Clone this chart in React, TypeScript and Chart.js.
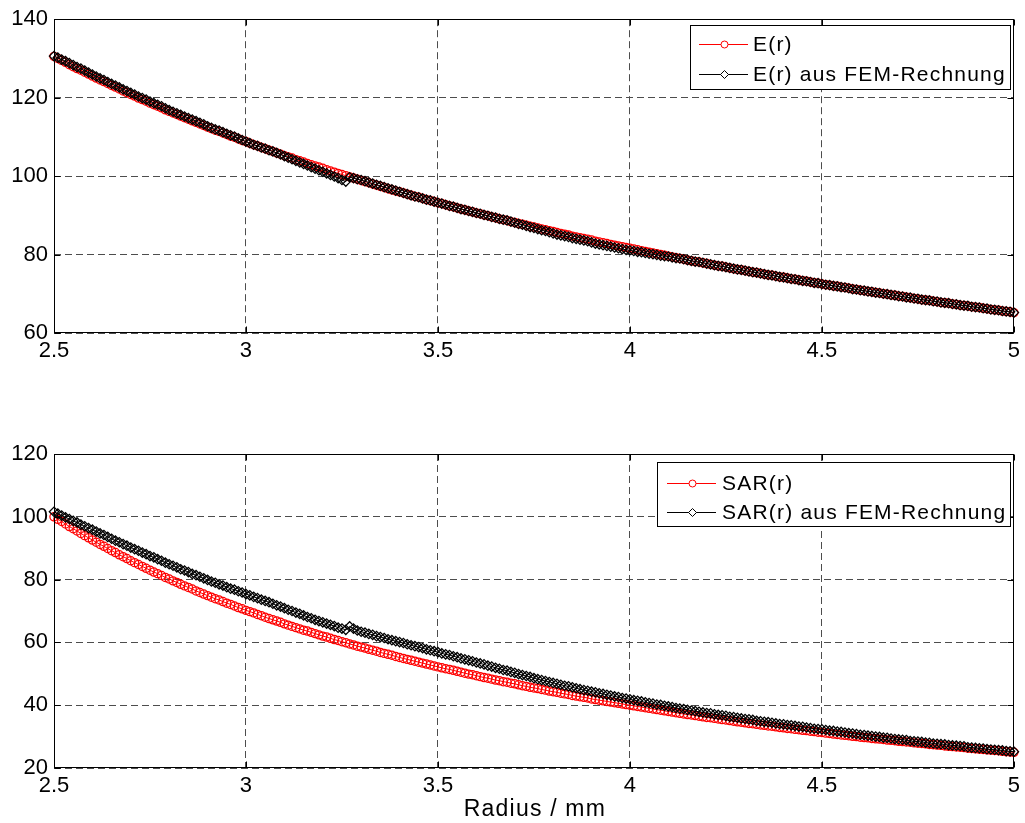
import React, { useEffect, useRef } from 'react';
import { Chart, registerables } from 'chart.js';

Chart.register(...registerables);

// ---------------- data ----------------
const radius = [
  2.5, 2.51, 2.52, 2.53, 2.54, 2.55, 2.56, 2.57, 2.58, 2.59,
  2.6, 2.61, 2.62, 2.63, 2.64, 2.65, 2.66, 2.67, 2.68, 2.69,
  2.7, 2.71, 2.72, 2.73, 2.74, 2.75, 2.76, 2.77, 2.78, 2.79,
  2.8, 2.81, 2.82, 2.83, 2.84, 2.85, 2.86, 2.87, 2.88, 2.89,
  2.9, 2.91, 2.92, 2.93, 2.94, 2.95, 2.96, 2.97, 2.98, 2.99,
  3.0, 3.01, 3.02, 3.03, 3.04, 3.05, 3.06, 3.07, 3.08, 3.09,
  3.1, 3.11, 3.12, 3.13, 3.14, 3.15, 3.16, 3.17, 3.18, 3.19,
  3.2, 3.21, 3.22, 3.23, 3.24, 3.25, 3.26, 3.27, 3.28, 3.29,
  3.3, 3.31, 3.32, 3.33, 3.34, 3.35, 3.36, 3.37, 3.38, 3.39,
  3.4, 3.41, 3.42, 3.43, 3.44, 3.45, 3.46, 3.47, 3.48, 3.49,
  3.5, 3.51, 3.52, 3.53, 3.54, 3.55, 3.56, 3.57, 3.58, 3.59,
  3.6, 3.61, 3.62, 3.63, 3.64, 3.65, 3.66, 3.67, 3.68, 3.69,
  3.7, 3.71, 3.72, 3.73, 3.74, 3.75, 3.76, 3.77, 3.78, 3.79,
  3.8, 3.81, 3.82, 3.83, 3.84, 3.85, 3.86, 3.87, 3.88, 3.89,
  3.9, 3.91, 3.92, 3.93, 3.94, 3.95, 3.96, 3.97, 3.98, 3.99,
  4.0, 4.01, 4.02, 4.03, 4.04, 4.05, 4.06, 4.07, 4.08, 4.09,
  4.1, 4.11, 4.12, 4.13, 4.14, 4.15, 4.16, 4.17, 4.18, 4.19,
  4.2, 4.21, 4.22, 4.23, 4.24, 4.25, 4.26, 4.27, 4.28, 4.29,
  4.3, 4.31, 4.32, 4.33, 4.34, 4.35, 4.36, 4.37, 4.38, 4.39,
  4.4, 4.41, 4.42, 4.43, 4.44, 4.45, 4.46, 4.47, 4.48, 4.49,
  4.5, 4.51, 4.52, 4.53, 4.54, 4.55, 4.56, 4.57, 4.58, 4.59,
  4.6, 4.61, 4.62, 4.63, 4.64, 4.65, 4.66, 4.67, 4.68, 4.69,
  4.7, 4.71, 4.72, 4.73, 4.74, 4.75, 4.76, 4.77, 4.78, 4.79,
  4.8, 4.81, 4.82, 4.83, 4.84, 4.85, 4.86, 4.87, 4.88, 4.89,
  4.9, 4.91, 4.92, 4.93, 4.94, 4.95, 4.96, 4.97, 4.98, 4.99,
  5.0,
];

const eAnalytic = [
  130.5, 130.0, 129.5, 129.0, 128.4, 127.9, 127.4, 127.0, 126.5, 126.0,
  125.5, 125.0, 124.5, 124.1, 123.6, 123.1, 122.7, 122.2, 121.7, 121.3,
  120.8, 120.4, 119.9, 119.5, 119.1, 118.6, 118.2, 117.8, 117.4, 116.9,
  116.5, 116.1, 115.7, 115.3, 114.9, 114.5, 114.1, 113.7, 113.3, 112.9,
  112.5, 112.1, 111.7, 111.4, 111.0, 110.6, 110.2, 109.9, 109.5, 109.1,
  108.8, 108.4, 108.0, 107.7, 107.3, 107.0, 106.6, 106.3, 105.9, 105.6,
  105.2, 104.9, 104.6, 104.2, 103.9, 103.6, 103.2, 102.9, 102.6, 102.3,
  102.0, 101.6, 101.3, 101.0, 100.7, 100.4, 100.1, 99.8, 99.5, 99.2,
  98.9, 98.6, 98.3, 98.0, 97.7, 97.4, 97.1, 96.8, 96.5, 96.2,
  96.0, 95.7, 95.4, 95.1, 94.8, 94.6, 94.3, 94.0, 93.8, 93.5,
  93.2, 93.0, 92.7, 92.4, 92.2, 91.9, 91.6, 91.4, 91.1, 90.9,
  90.6, 90.4, 90.1, 89.9, 89.6, 89.4, 89.1, 88.9, 88.7, 88.4,
  88.2, 87.9, 87.7, 87.5, 87.2, 87.0, 86.8, 86.5, 86.3, 86.1,
  85.9, 85.6, 85.4, 85.2, 85.0, 84.7, 84.5, 84.3, 84.1, 83.9,
  83.7, 83.4, 83.2, 83.0, 82.8, 82.6, 82.4, 82.2, 82.0, 81.8,
  81.6, 81.4, 81.2, 81.0, 80.8, 80.6, 80.4, 80.2, 80.0, 79.8,
  79.6, 79.4, 79.2, 79.0, 78.8, 78.6, 78.4, 78.2, 78.1, 77.9,
  77.7, 77.5, 77.3, 77.1, 77.0, 76.8, 76.6, 76.4, 76.2, 76.1,
  75.9, 75.7, 75.5, 75.4, 75.2, 75.0, 74.8, 74.7, 74.5, 74.3,
  74.2, 74.0, 73.8, 73.7, 73.5, 73.3, 73.2, 73.0, 72.8, 72.7,
  72.5, 72.3, 72.2, 72.0, 71.9, 71.7, 71.6, 71.4, 71.2, 71.1,
  70.9, 70.8, 70.6, 70.5, 70.3, 70.2, 70.0, 69.9, 69.7, 69.6,
  69.4, 69.3, 69.1, 69.0, 68.8, 68.7, 68.5, 68.4, 68.3, 68.1,
  68.0, 67.8, 67.7, 67.6, 67.4, 67.3, 67.1, 67.0, 66.9, 66.7,
  66.6, 66.5, 66.3, 66.2, 66.0, 65.9, 65.8, 65.6, 65.5, 65.4,
  65.2,
];

const eFem = [
  130.6, 130.2, 129.7, 129.3, 128.8, 128.3, 127.8, 127.4, 126.9, 126.4,
  125.9, 125.4, 124.9, 124.5, 124.0, 123.5, 123.1, 122.6, 122.1, 121.7,
  121.2, 120.8, 120.3, 119.9, 119.5, 119.0, 118.6, 118.2, 117.8, 117.3,
  116.8, 116.4, 116.0, 115.6, 115.2, 114.8, 114.4, 114.0, 113.6, 113.2,
  112.7, 112.3, 111.9, 111.6, 111.2, 110.8, 110.4, 110.1, 109.6, 109.2,
  108.8, 108.4, 108.0, 107.7, 107.3, 107.0, 106.6, 106.3, 105.9, 105.5,
  105.1, 104.7, 104.3, 103.9, 103.5, 103.1, 102.7, 102.3, 101.9, 101.5,
  101.1, 100.7, 100.3, 99.9, 99.5, 99.0, 98.6, 99.7, 99.5, 99.2,
  99.0, 98.7, 98.4, 98.1, 97.8, 97.5, 97.2, 96.9, 96.6, 96.3,
  96.0, 95.7, 95.4, 95.1, 94.8, 94.6, 94.3, 94.0, 93.8, 93.5,
  93.2, 93.0, 92.7, 92.4, 92.2, 91.9, 91.6, 91.4, 91.1, 90.9,
  90.6, 90.4, 90.1, 89.9, 89.6, 89.4, 89.1, 88.9, 88.7, 88.4,
  88.1, 87.8, 87.6, 87.3, 87.0, 86.8, 86.5, 86.2, 86.0, 85.7,
  85.4, 85.1, 84.9, 84.7, 84.5, 84.2, 84.0, 83.8, 83.6, 83.4,
  83.1, 82.8, 82.6, 82.4, 82.2, 82.0, 81.8, 81.6, 81.4, 81.2,
  81.1, 80.9, 80.7, 80.6, 80.4, 80.2, 80.1, 79.9, 79.7, 79.6,
  79.5, 79.3, 79.1, 79.0, 78.8, 78.6, 78.4, 78.2, 78.1, 77.9,
  77.7, 77.5, 77.3, 77.1, 77.0, 76.8, 76.6, 76.4, 76.2, 76.1,
  75.9, 75.7, 75.5, 75.4, 75.2, 75.0, 74.8, 74.7, 74.5, 74.3,
  74.2, 74.0, 73.8, 73.7, 73.5, 73.3, 73.2, 73.0, 72.8, 72.7,
  72.5, 72.3, 72.2, 72.0, 71.9, 71.7, 71.6, 71.4, 71.2, 71.1,
  70.9, 70.8, 70.6, 70.5, 70.3, 70.2, 70.0, 69.9, 69.7, 69.6,
  69.4, 69.3, 69.1, 69.0, 68.8, 68.7, 68.5, 68.4, 68.3, 68.1,
  68.0, 67.8, 67.7, 67.6, 67.4, 67.3, 67.1, 67.0, 66.9, 66.7,
  66.6, 66.5, 66.3, 66.2, 66.0, 65.9, 65.8, 65.6, 65.5, 65.4,
  65.2,
];

const sarAnalytic = [
  100.0, 99.2, 98.5, 97.7, 96.9, 96.2, 95.5, 94.7, 94.0, 93.3,
  92.6, 91.9, 91.2, 90.6, 89.9, 89.2, 88.6, 87.9, 87.3, 86.7,
  86.0, 85.4, 84.8, 84.2, 83.6, 83.0, 82.4, 81.9, 81.3, 80.7,
  80.2, 79.6, 79.1, 78.5, 78.0, 77.5, 77.0, 76.4, 75.9, 75.4,
  74.9, 74.4, 73.9, 73.5, 73.0, 72.5, 72.1, 71.6, 71.1, 70.7,
  70.2, 69.8, 69.4, 68.9, 68.5, 68.0, 67.6, 67.2, 66.8, 66.4,
  65.9, 65.5, 65.1, 64.7, 64.3, 63.9, 63.6, 63.2, 62.8, 62.4,
  62.0, 61.7, 61.3, 60.9, 60.6, 60.2, 59.9, 59.5, 59.2, 58.8,
  58.5, 58.2, 57.8, 57.5, 57.2, 56.8, 56.5, 56.2, 55.9, 55.5,
  55.2, 54.9, 54.6, 54.3, 54.0, 53.7, 53.4, 53.1, 52.8, 52.5,
  52.2, 51.9, 51.6, 51.4, 51.1, 50.8, 50.5, 50.2, 49.9, 49.7,
  49.4, 49.1, 48.8, 48.6, 48.3, 48.0, 47.8, 47.5, 47.3, 47.0,
  46.8, 46.5, 46.2, 46.0, 45.7, 45.5, 45.3, 45.0, 44.8, 44.5,
  44.3, 44.1, 43.8, 43.6, 43.4, 43.1, 42.9, 42.7, 42.5, 42.3,
  42.0, 41.8, 41.6, 41.4, 41.2, 41.0, 40.8, 40.6, 40.4, 40.2,
  40.0, 39.8, 39.6, 39.4, 39.2, 39.0, 38.8, 38.6, 38.4, 38.2,
  38.0, 37.8, 37.6, 37.4, 37.2, 37.0, 36.9, 36.7, 36.5, 36.3,
  36.1, 36.0, 35.8, 35.6, 35.4, 35.3, 35.1, 34.9, 34.7, 34.6,
  34.4, 34.2, 34.1, 33.9, 33.7, 33.6, 33.4, 33.3, 33.1, 32.9,
  32.8, 32.6, 32.5, 32.3, 32.2, 32.0, 31.9, 31.7, 31.6, 31.4,
  31.3, 31.1, 31.0, 30.8, 30.7, 30.5, 30.4, 30.3, 30.1, 30.0,
  29.8, 29.7, 29.6, 29.4, 29.3, 29.2, 29.1, 28.9, 28.8, 28.7,
  28.5, 28.4, 28.3, 28.2, 28.0, 27.9, 27.8, 27.7, 27.5, 27.4,
  27.3, 27.2, 27.0, 26.9, 26.8, 26.7, 26.6, 26.5, 26.3, 26.2,
  26.1, 26.0, 25.9, 25.8, 25.7, 25.6, 25.5, 25.3, 25.2, 25.1,
  25.0,
];

const sarFem = [
  101.6, 101.0, 100.4, 99.8, 99.3, 98.7, 98.2, 97.5, 97.0, 96.4,
  95.9, 95.3, 94.7, 94.2, 93.6, 93.0, 92.4, 91.9, 91.3, 90.8,
  90.2, 89.7, 89.2, 88.6, 88.1, 87.5, 87.1, 86.5, 86.0, 85.4,
  84.9, 84.4, 83.9, 83.3, 82.9, 82.4, 81.8, 81.4, 80.9, 80.4,
  79.9, 79.4, 79.0, 78.5, 78.1, 77.6, 77.1, 76.8, 76.3, 75.9,
  75.4, 75.0, 74.5, 74.1, 73.6, 73.2, 72.8, 72.3, 71.8, 71.4,
  70.9, 70.4, 70.0, 69.5, 69.1, 68.6, 68.1, 67.7, 67.2, 66.8,
  66.4, 66.0, 65.6, 65.2, 64.7, 64.4, 64.0, 65.1, 64.4, 63.8,
  63.4, 63.1, 62.7, 62.4, 62.0, 61.7, 61.4, 61.0, 60.7, 60.4,
  60.1, 59.8, 59.4, 59.1, 58.8, 58.5, 58.2, 57.8, 57.5, 57.2,
  56.9, 56.5, 56.2, 56.0, 55.6, 55.3, 54.9, 54.6, 54.3, 54.0,
  53.6, 53.3, 53.0, 52.6, 52.3, 51.9, 51.6, 51.2, 51.0, 50.6,
  50.3, 49.9, 49.6, 49.3, 49.0, 48.6, 48.3, 48.0, 47.7, 47.4,
  47.1, 46.8, 46.5, 46.2, 46.0, 45.7, 45.4, 45.1, 44.8, 44.6,
  44.3, 44.1, 43.8, 43.6, 43.3, 43.1, 42.8, 42.6, 42.3, 42.1,
  41.9, 41.6, 41.4, 41.2, 40.9, 40.7, 40.5, 40.2, 40.1, 39.8,
  39.6, 39.4, 39.1, 38.9, 38.8, 38.5, 38.3, 38.1, 37.9, 37.7,
  37.5, 37.4, 37.1, 36.9, 36.8, 36.6, 36.3, 36.2, 36.0, 35.8,
  35.6, 35.5, 35.3, 35.0, 34.9, 34.7, 34.6, 34.4, 34.2, 34.0,
  33.9, 33.7, 33.6, 33.4, 33.2, 33.1, 32.9, 32.7, 32.5, 32.4,
  32.3, 32.1, 31.9, 31.8, 31.6, 31.5, 31.3, 31.1, 31.0, 30.8,
  30.6, 30.5, 30.3, 30.2, 30.0, 29.9, 29.7, 29.6, 29.4, 29.2,
  29.1, 29.0, 28.9, 28.6, 28.5, 28.4, 28.3, 28.1, 28.0, 27.8,
  27.7, 27.6, 27.5, 27.3, 27.2, 27.1, 27.0, 26.9, 26.6, 26.5,
  26.4, 26.3, 26.2, 26.0, 25.9, 25.8, 25.7, 25.6, 25.4, 25.3,
  25.2,
];

const xTicks = [2.5, 3, 3.5, 4, 4.5, 5];
const xTickLabels = ['2.5', '3', '3.5', '4', '4.5', '5'];
const eTicks = [60, 80, 100, 120, 140];
const sarTicks = [20, 40, 60, 80, 100, 120];
const eLegendLabels = ['E(r)', 'E(r) aus FEM-Rechnung'];
const sarLegendLabels = ['SAR(r)', 'SAR(r) aus FEM-Rechnung'];
const xTitle = 'Radius / mm';

// ---------------- styling / layout ----------------
const FONT = '"Liberation Sans", Arial, Helvetica, sans-serif';
const RED = '#ff0000';
const BLACK = '#000000';
const GRID = '#4d4d4d';
const CIRCLE_R = 4.1;
const DIAMOND_R = 4.7;
const MARKER_LW = 1.25;

type LegendLayout = {
  left: number; top: number; width: number; height: number;
  rows: number[]; lineX0: number; lineX1: number; textX: number;
};

function drawMarker(ctx: CanvasRenderingContext2D, style: string, x: number, y: number, color: string) {
  ctx.save();
  ctx.strokeStyle = color;
  ctx.lineWidth = 1;
  ctx.beginPath();
  if (style === 'circle') {
    ctx.arc(x, y, 3.5, 0, Math.PI * 2);
  } else {
    const r = 4;
    ctx.moveTo(x, y - r);
    ctx.lineTo(x + r, y);
    ctx.lineTo(x, y + r);
    ctx.lineTo(x - r, y);
    ctx.closePath();
  }
  ctx.fillStyle = '#ffffff';
  ctx.fill();
  ctx.stroke();
  ctx.restore();
}

function framePlugin(legend: LegendLayout, labels: string[], yTicks: number[], title: { text: string; y: number } | null) {
  return {
    id: 'frameAndLegend',
    afterDraw(chart: any) {
      const ctx: CanvasRenderingContext2D = chart.ctx;
      const { left, right, top, bottom } = chart.chartArea;
      const L = Math.round(left) + 0.5;
      const R = Math.round(right) - 0.5;
      const T = Math.round(top) + 0.5;
      const B = Math.round(bottom) - 0.5;
      ctx.save();
      ctx.strokeStyle = BLACK;
      ctx.lineWidth = 1;
      ctx.setLineDash([]);
      // inward tick marks
      ctx.beginPath();
      const xs = chart.scales.x;
      const ys = chart.scales.y;
      xTicks.forEach((v) => {
        const px = Math.round(xs.getPixelForValue(v)) + 0.5;
        ctx.moveTo(px, B); ctx.lineTo(px, B - 6);
        ctx.moveTo(px, T); ctx.lineTo(px, T + 6);
      });
      yTicks.forEach((v) => {
        const py = Math.round(ys.getPixelForValue(v)) + 0.5;
        ctx.moveTo(L, py); ctx.lineTo(L + 6, py);
        ctx.moveTo(R, py); ctx.lineTo(R - 6, py);
      });
      ctx.stroke();
      // axes box
      ctx.strokeRect(L, T, R - L, B - T);

      // legend
      ctx.fillStyle = '#ffffff';
      ctx.fillRect(legend.left, legend.top, legend.width, legend.height);
      ctx.strokeRect(legend.left + 0.5, legend.top + 0.5, legend.width, legend.height);
      const entries = [
        { label: labels[0], color: RED, style: 'circle' },
        { label: labels[1], color: BLACK, style: 'rectRot' },
      ];
      entries.forEach((e, i) => {
        const y = Math.round(legend.rows[i]) + 0.5;
        ctx.strokeStyle = e.color;
        ctx.beginPath();
        ctx.moveTo(legend.lineX0, y);
        ctx.lineTo(legend.lineX1, y);
        ctx.stroke();
        drawMarker(ctx, e.style, Math.round((legend.lineX0 + legend.lineX1) / 2) + 0.5, y, e.color);
        ctx.save();
        (ctx as any).letterSpacing = '1.2px';
        ctx.font = `21px ${FONT}`;
        ctx.fillStyle = BLACK;
        ctx.textAlign = 'left';
        ctx.textBaseline = 'middle';
        ctx.fillText(e.label, legend.textX, legend.rows[i] + 1);
        ctx.restore();
      });

      if (title) {
        ctx.save();
        (ctx as any).letterSpacing = '1.2px';
        ctx.font = `23px ${FONT}`;
        ctx.fillStyle = BLACK;
        ctx.textAlign = 'center';
        ctx.textBaseline = 'middle';
        ctx.fillText(title.text, (left + right) / 2 + 1, title.y);
        ctx.restore();
      }
      ctx.restore();
    },
  };
}

function makeConfig(p: {
  analytic: number[]; fem: number[]; labels: string[];
  yMin: number; yMax: number; yTicks: number[];
  padTop: number; xHeight: number; legend: LegendLayout;
  title: { text: string; y: number } | null;
}): any {
  const tickFont = { family: FONT, size: 22 };
  return {
    type: 'line',
    data: {
      datasets: [
        {
          label: p.labels[1],
          data: radius.map((r, i) => ({ x: r, y: p.fem[i] })),
          borderColor: BLACK,
          borderWidth: 1,
          pointStyle: 'rectRot',
          pointRadius: DIAMOND_R,
          pointBorderWidth: MARKER_LW,
          pointBorderColor: BLACK,
          pointBackgroundColor: 'rgba(0,0,0,0)',
          tension: 0,
          fill: false,
          clip: false,
          order: 0,
        },
        {
          label: p.labels[0],
          data: radius.map((r, i) => ({ x: r, y: p.analytic[i] })),
          borderColor: RED,
          borderWidth: 1,
          pointStyle: 'circle',
          pointRadius: CIRCLE_R,
          pointBorderWidth: MARKER_LW,
          pointBorderColor: RED,
          pointBackgroundColor: 'rgba(0,0,0,0)',
          tension: 0,
          fill: false,
          clip: false,
          order: 1,
        },
      ],
    },
    options: {
      responsive: false,
      animation: false,
      events: [],
      layout: { padding: { top: p.padTop, right: 8, left: 0, bottom: 0 } },
      plugins: { legend: { display: false }, tooltip: { enabled: false }, title: { display: false } },
      scales: {
        x: {
          type: 'linear',
          min: 2.5,
          max: 5,
          afterBuildTicks: (s: any) => { s.ticks = xTicks.map((v) => ({ value: v })); },
          afterFit: (s: any) => { s.height = p.xHeight; },
          ticks: {
            callback: (v: any) => {
              const i = xTicks.indexOf(Number(v));
              return i >= 0 ? xTickLabels[i] : '';
            },
            font: tickFont,
            color: BLACK,
            padding: 5,
            maxRotation: 0,
            minRotation: 0,
            autoSkip: false,
          },
          grid: { color: GRID, lineWidth: 1, drawTicks: false },
          border: { display: false, dash: [7, 4] },
        },
        y: {
          type: 'linear',
          min: p.yMin,
          max: p.yMax,
          afterBuildTicks: (s: any) => { s.ticks = p.yTicks.map((v) => ({ value: v })); },
          afterFit: (s: any) => { s.width = 54; },
          ticks: { font: tickFont, color: BLACK, padding: 6 },
          grid: { color: GRID, lineWidth: 1, drawTicks: false },
          border: { display: false, dash: [7, 4] },
        },
      },
    },
    plugins: [framePlugin(p.legend, p.labels, p.yTicks, p.title)],
  };
}

const TOP_H = 372;
const BOT_H = 451;

export default function App() {
  const topRef = useRef<HTMLCanvasElement>(null);
  const botRef = useRef<HTMLCanvasElement>(null);

  useEffect(() => {
    const c1 = new Chart(topRef.current as HTMLCanvasElement, makeConfig({
      analytic: eAnalytic,
      fem: eFem,
      labels: eLegendLabels,
      yMin: 60,
      yMax: 140,
      yTicks: eTicks,
      padTop: 17,
      xHeight: TOP_H - 333,
      legend: { left: 690, top: 25, width: 320, height: 64, rows: [44, 74], lineX0: 699, lineX1: 748, textX: 753 },
      title: null,
    }));
    const c2 = new Chart(botRef.current as HTMLCanvasElement, makeConfig({
      analytic: sarAnalytic,
      fem: sarFem,
      labels: sarLegendLabels,
      yMin: 20,
      yMax: 120,
      yTicks: sarTicks,
      padTop: 454 - TOP_H,
      xHeight: BOT_H - (768 - TOP_H),
      legend: { left: 657, top: 462 - TOP_H, width: 353, height: 64, rows: [483 - TOP_H, 512 - TOP_H], lineX0: 667, lineX1: 716, textX: 722 },
      title: { text: xTitle, y: 810 - TOP_H },
    }));
    return () => { c1.destroy(); c2.destroy(); };
  }, []);

  return (
    <div style={{ position: 'absolute', left: 0, top: 0, width: 1025, height: 823, background: '#ffffff' }}>
      <canvas ref={topRef} width={1025} height={TOP_H} style={{ position: 'absolute', left: 0, top: 0, display: 'block' }} />
      <canvas ref={botRef} width={1025} height={BOT_H} style={{ position: 'absolute', left: 0, top: TOP_H, display: 'block' }} />
    </div>
  );
}
